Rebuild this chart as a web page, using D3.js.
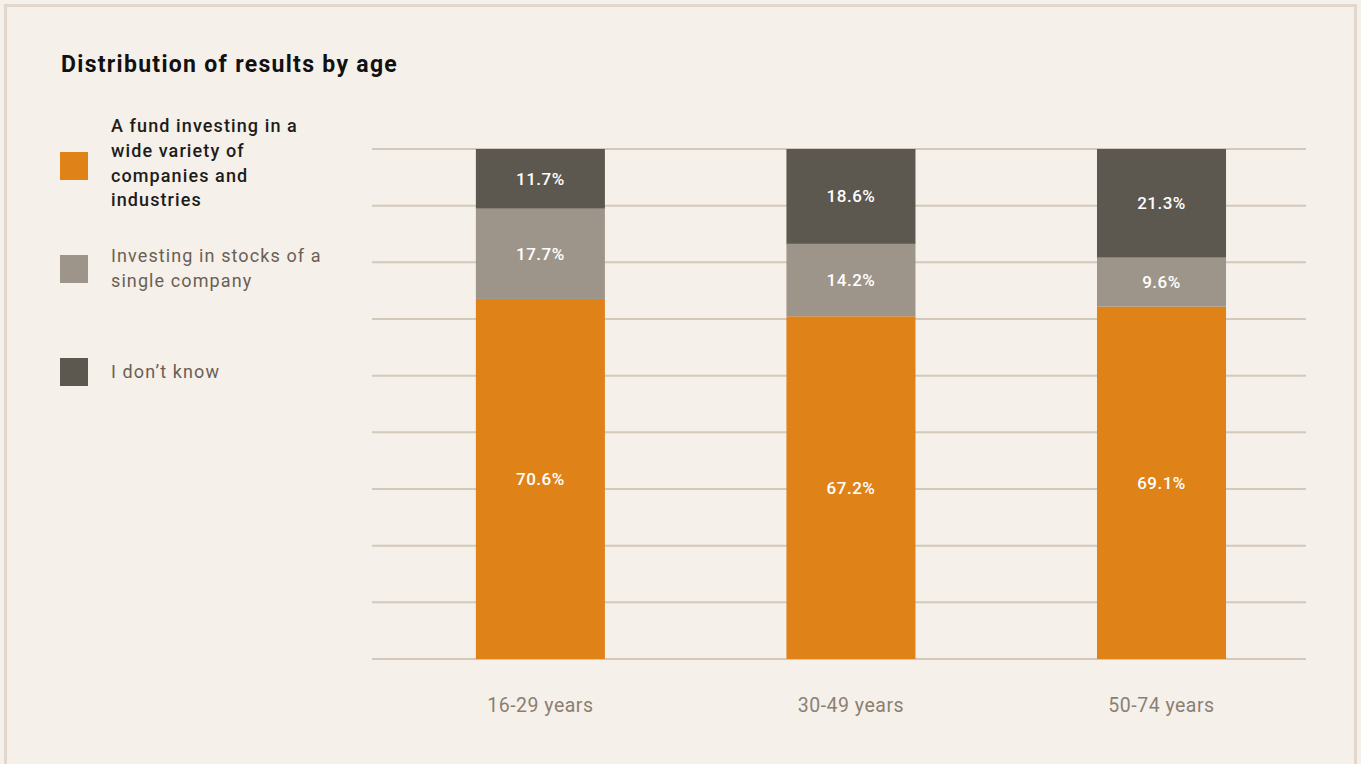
<!DOCTYPE html>
<html>
<head>
<meta charset="utf-8">
<script src="https://cdn.jsdelivr.net/npm/d3@7/dist/d3.min.js"></script>
<style>
  html, body { margin: 0; padding: 0; background: #f5f0ea; }
  svg { display: block; font-family: Roboto, "Noto Sans", sans-serif; }
</style>
</head>
<body>
<svg id="chart" width="1361" height="764"></svg>
<script>
// Age groups along the x axis
const ageGroups = ["16-29 years", "30-49 years", "50-74 years"];

// Share of answers (%) per age group, stacked bottom to top
const fundValues    = [70.6, 67.2, 69.1];
const singleValues  = [17.7, 14.2, 9.6];
const dontKnowValues = [11.7, 18.6, 21.3];

const seriesNames = [
  "A fund investing in a wide variety of companies and industries",
  "Investing in stocks of a single company",
  "I don\u2019t know"
];
const legendLines = [
  ["A fund investing in a", "wide variety of", "companies and", "industries"],
  ["Investing in stocks of a", "single company"],
  ["I don\u2019t know"]
];
const seriesKeys = ["fund", "single", "dontknow"];
const colors = ["#df8319", "#9e958a", "#5c5850"];

const rows = ageGroups.map((g, i) => ({
  group: g,
  fund: fundValues[i],
  single: singleValues[i],
  dontknow: dontKnowValues[i]
}));

const svg = d3.select("#chart");
const W = 1361, H = 764;

// Panel frame
svg.append("rect").attr("x", 0).attr("y", 0).attr("width", W).attr("height", H).attr("fill", "#f5f0ea");
svg.append("rect")
  .attr("x", 5.5).attr("y", 5.5).attr("width", 1350).attr("height", 780)
  .attr("fill", "#f5f0ea").attr("stroke", "#e2d7ca").attr("stroke-width", 3);

// Title
svg.append("text")
  .attr("x", 61).attr("y", 72)
  .attr("font-size", 23).attr("font-weight", 700)
  .attr("letter-spacing", 1.3)
  .attr("fill", "#111")
  .text("Distribution of results by age");

// Scales
const plotLeft = 372, plotRight = 1306, plotTop = 149, plotBottom = 659;
const x = d3.scaleBand()
  .domain(ageGroups)
  .range([plotLeft, plotRight])
  .paddingInner(0.5845)
  .paddingOuter(0.296)
  .align(0.565);
const y = d3.scaleLinear().domain([0, 100]).range([plotBottom, plotTop]);
const color = d3.scaleOrdinal().domain(seriesKeys).range(colors);

// Horizontal gridlines
const gridValues = d3.range(10).map(i => i * 100 / 9);
svg.append("g")
  .selectAll("line")
  .data(gridValues)
  .join("line")
  .attr("x1", plotLeft).attr("x2", plotRight)
  .attr("y1", d => y(d)).attr("y2", d => y(d))
  .attr("stroke", "#d3c8ba").attr("stroke-width", 2);

// Stacked bars
const stack = d3.stack().keys(seriesKeys)(rows);
const layers = svg.append("g")
  .selectAll("g")
  .data(stack)
  .join("g")
  .attr("fill", d => color(d.key));

layers.selectAll("rect")
  .data(d => d)
  .join("rect")
  .attr("x", d => x(d.data.group))
  .attr("width", x.bandwidth())
  .attr("y", d => y(d[1]))
  .attr("height", d => y(d[0]) - y(d[1]));

// Value labels inside segments
layers.selectAll("text")
  .data(d => d.map(v => ({ v, key: d.key })))
  .join("text")
  .attr("x", d => x(d.v.data.group) + x.bandwidth() / 2)
  .attr("y", d => (y(d.v[0]) + y(d.v[1])) / 2)
  .attr("dy", "0.35em")
  .attr("text-anchor", "middle")
  .attr("font-size", 17).attr("font-weight", 500)
  .attr("letter-spacing", 0.5)
  .attr("fill", "#ffffff")
  .text(d => d.v.data[d.key].toFixed(1) + "%");

// X axis labels
const xAxis = svg.append("g")
  .attr("transform", `translate(0,${plotBottom + 46})`)
  .call(d3.axisBottom(x).tickSize(0).tickPadding(0));
xAxis.select(".domain").remove();
xAxis.selectAll("text")
  .attr("font-size", 19.5)
  .attr("font-family", "Roboto, 'Noto Sans', sans-serif")
  .attr("letter-spacing", 0.5)
  .attr("fill", "#8c7f72")
  .attr("dy", "0.35em");

// Legend
const legendY = [152, 255, 358];
const legendTextY = [132, 262, 378];
const legend = svg.append("g");
seriesKeys.forEach((k, i) => {
  legend.append("rect")
    .attr("x", 60).attr("y", legendY[i])
    .attr("width", 28).attr("height", 28)
    .attr("fill", color(k));
  const t = legend.append("text")
    .attr("x", 111).attr("y", legendTextY[i])
    .attr("font-size", 18)
    .attr("letter-spacing", 1.1)
    .attr("font-weight", i === 0 ? 500 : 400)
    .attr("fill", i === 0 ? "#1e1c1a" : "#6b5f53");
  legendLines[i].forEach((line, j) => {
    t.append("tspan").attr("x", 111).attr("dy", j === 0 ? 0 : 24.8).text(line);
  });
  t.append("title").text(seriesNames[i]);
});
</script>
</body>
</html>
